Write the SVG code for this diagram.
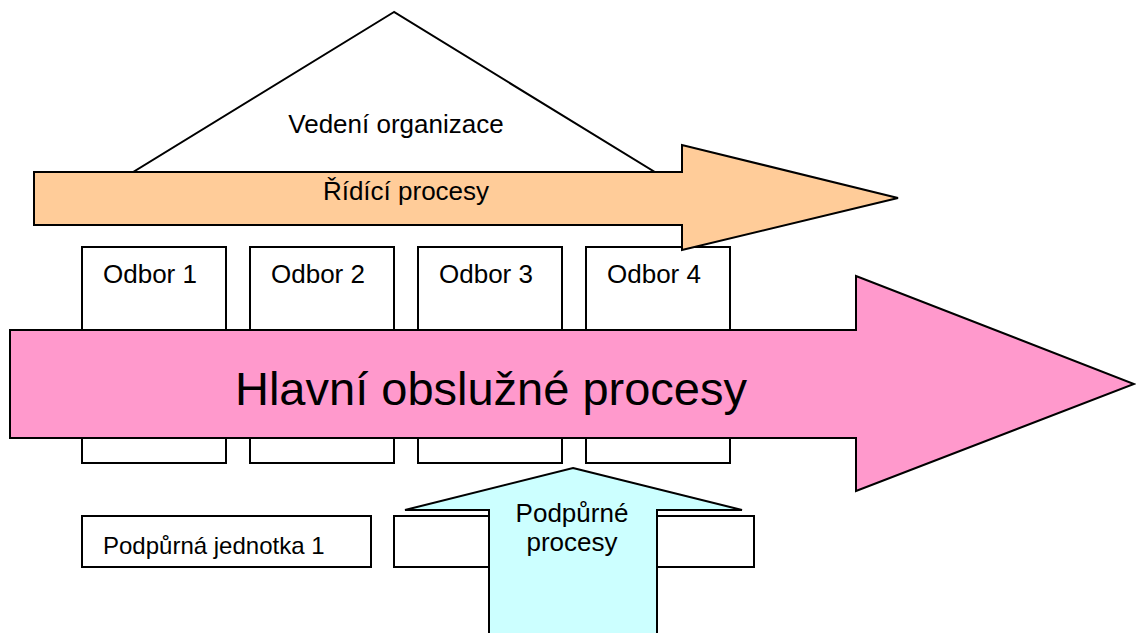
<svg xmlns="http://www.w3.org/2000/svg" width="1136" height="633" viewBox="0 0 1136 633">
  <style>
    .shape { stroke: #000; stroke-width: 2; stroke-linejoin: miter; }
    .box { fill: #fff; stroke: #000; stroke-width: 2; }
    .t { font-family: "Liberation Sans", Arial, sans-serif; fill: #000; }
    .t26 { font-size: 26px; }
  </style>
  <rect width="1136" height="633" fill="#fff"/>

  <!-- management roof -->
  <g id="vedeni">
    <polygon class="shape" fill="#fff" points="394,12 130,174 658,174"/>
    <text class="t t26" x="396" y="133" text-anchor="middle">Vedení organizace</text>
  </g>

  <!-- departments -->
  <g id="odbor1">
    <rect class="box" x="82" y="247" width="144" height="216"/>
    <text class="t t26" x="103" y="283">Odbor 1</text>
  </g>
  <g id="odbor2">
    <rect class="box" x="250" y="247" width="144" height="216"/>
    <text class="t t26" x="271" y="283">Odbor 2</text>
  </g>
  <g id="odbor3">
    <rect class="box" x="418" y="247" width="144" height="216"/>
    <text class="t t26" x="439" y="283">Odbor 3</text>
  </g>
  <g id="odbor4">
    <rect class="box" x="586" y="247" width="144" height="216"/>
    <text class="t t26" x="607" y="283">Odbor 4</text>
  </g>

  <!-- support units -->
  <g id="jednotka1">
    <rect class="box" x="82" y="516" width="289" height="51"/>
    <text class="t" font-size="24" x="103" y="554">Podpůrná jednotka 1</text>
  </g>
  <g id="jednotka2">
    <rect class="box" x="394" y="516" width="360" height="51"/>
  </g>

  <!-- process arrows -->
  <g id="connectors">
    <g id="ridici">
      <polygon class="shape" fill="#FFCC99" points="34,172 682,172 682,145 898,198 682,250 682,225 34,225"/>
      <text class="t t26" x="406" y="200" text-anchor="middle">Řídící procesy</text>
    </g>
    <g id="hlavni">
      <polygon class="shape" fill="#FF99CC" points="10,330 856,330 856,276 1134,384 856,491 856,438 10,438"/>
      <text class="t" font-size="47" x="491" y="405" text-anchor="middle">Hlavní obslužné procesy</text>
    </g>
    <g id="podpurne">
      <polygon class="shape" fill="#CCFFFF" points="573,468 742,510 657,510 657,640 489,640 489,510 405,510"/>
      <text class="t t26" text-anchor="middle"><tspan x="572" y="522">Podpůrné</tspan><tspan x="572" y="551">procesy</tspan></text>
    </g>
  </g>
</svg>
